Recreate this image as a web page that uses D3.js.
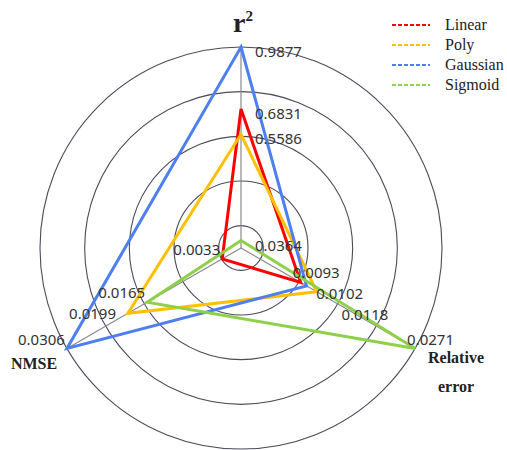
<!DOCTYPE html>
<html>
<head>
<meta charset="utf-8">
<script src="https://cdn.jsdelivr.net/npm/d3@7"></script>
<style>
  html, body { margin: 0; padding: 0; background: #fff; }
  svg { display: block; }
</style>
</head>
<body>
<svg id="chart" width="507" height="450"></svg>
<script>
// Model names (one polygon each) and their colours
const seriesNames = ["Linear", "Poly", "Gaussian", "Sigmoid"];
const seriesColors = ["#ff0000", "#ffc000", "#4d7ff0", "#8fd04a"];

// Metrics, one axis each
const axisKeys = ["r2", "relErr", "nmse"];

// Metric values per model, in seriesNames order
const r2Values     = [0.6831, 0.5586, 0.9877, 0.0364];
const relErrValues = [0.0093, 0.0118, 0.0102, 0.0271];
const nmseValues   = [0.0033, 0.0199, 0.0306, 0.0165];

const valuesByAxis = { r2: r2Values, relErr: relErrValues, nmse: nmseValues };

// ---- layout ----
const width = 507, height = 450;
const cx = 241, cy = 248, R = 201;
const ringSteps = [1, 3, 5, 7, 9];          // rings in ninths of the radius
const axisAngle = { r2: 0, relErr: 2 * Math.PI / 3, nmse: 4 * Math.PI / 3 };

const svg = d3.select("#chart");
const g = svg.append("g").attr("transform", `translate(${cx},${cy})`);

// one radial scale per metric, 0 .. largest value on that axis
const rScale = {};
axisKeys.forEach(k => {
  rScale[k] = d3.scaleLinear().domain([0, d3.max(valuesByAxis[k])]).range([0, R]);
});
const ringScale = d3.scaleLinear().domain([0, 9]).range([0, R]);

// grid rings
g.selectAll("circle.ring")
  .data(ringSteps)
  .join("circle")
  .attr("class", "ring")
  .attr("r", d => ringScale(d))
  .attr("fill", "none")
  .attr("stroke", "#4b4b5c")
  .attr("stroke-width", 1.1);

// spokes
g.selectAll("line.spoke")
  .data(axisKeys)
  .join("line")
  .attr("class", "spoke")
  .attr("x1", 0).attr("y1", 0)
  .attr("x2", k => d3.pointRadial(axisAngle[k], R)[0])
  .attr("y2", k => d3.pointRadial(axisAngle[k], R)[1])
  .attr("stroke", "#8a8a8a")
  .attr("stroke-width", 1.2);

// polygons
const seriesData = seriesNames.map((name, i) => ({
  name,
  color: seriesColors[i],
  points: axisKeys.map(k => d3.pointRadial(axisAngle[k], rScale[k](valuesByAxis[k][i])))
}));

const line = d3.line().curve(d3.curveLinearClosed);
g.selectAll("path.series")
  .data(seriesData)
  .join("path")
  .attr("class", "series")
  .attr("d", d => line(d.points))
  .attr("fill", "none")
  .attr("stroke", d => d.color)
  .attr("stroke-width", 3)
  .attr("stroke-linejoin", "miter");

// value labels, placed per axis then spread outward so they don't collide
const labelRule = {
  r2:     { anchor: "start", dx: p => 14 - p[0], dy: 10, slide: 0 },
  relErr: { anchor: "start", dx: () => -8,       dy: -4, slide: 1 },
  nmse:   { anchor: "end",   dx: () => -2,       dy: -4, slide: -1 }
};
const labels = [];
axisKeys.forEach(k => {
  const rule = labelRule[k];
  const items = valuesByAxis[k].map(v => {
    const p = d3.pointRadial(axisAngle[k], rScale[k](v));
    return { v, x: p[0] + rule.dx(p), y: p[1] + rule.dy, anchor: rule.anchor };
  });
  // sort outward along the axis and keep a minimum vertical gap
  const down = k !== "r2";
  const gap = 21;
  items.sort((a, b) => down ? a.y - b.y : b.y - a.y);
  for (let i = 1; i < items.length; i++) {
    const prev = items[i - 1].y;
    let shift = 0;
    if (down && items[i].y < prev + gap) shift = prev + gap - items[i].y;
    if (!down && items[i].y > prev - gap) shift = items[i].y - (prev - gap);
    if (shift > 0) {
      items[i].y += down ? shift : -shift;
      items[i].x += rule.slide * shift;
    }
  }
  labels.push(...items);
});

g.selectAll("text.value")
  .data(labels)
  .join("text")
  .attr("class", "value")
  .attr("x", d => d.x)
  .attr("y", d => d.y)
  .attr("text-anchor", d => d.anchor)
  .attr("font-family", "'Noto Sans', 'Open Sans', sans-serif")
  .attr("font-size", 15)
  .attr("fill", "#333")
  .text(d => d.v.toFixed(4));

// axis titles
const titleFont = "'Liberation Serif', 'Times New Roman', serif";
const r2Title = svg.append("text")
  .attr("x", cx + 2).attr("y", 32)
  .attr("text-anchor", "middle")
  .attr("font-family", titleFont)
  .attr("font-weight", "bold")
  .attr("font-size", 28)
  .attr("fill", "#222");
r2Title.append("tspan").text("r");
r2Title.append("tspan").attr("dy", -11).attr("font-size", 15).text("2");

svg.append("text")
  .attr("x", 34).attr("y", 369)
  .attr("text-anchor", "middle")
  .attr("font-family", titleFont)
  .attr("font-weight", "bold")
  .attr("font-size", 16)
  .attr("fill", "#222")
  .text("NMSE");

svg.append("text")
  .attr("text-anchor", "middle")
  .attr("font-family", titleFont)
  .attr("font-weight", "bold")
  .attr("font-size", 16)
  .attr("fill", "#222")
  .selectAll("tspan")
  .data(["Relative", "error"])
  .join("tspan")
  .attr("x", 456)
  .attr("y", (d, i) => 363 + i * 29)
  .text(d => d);

// legend
const legend = svg.append("g").attr("transform", "translate(392,25)");
const rows = legend.selectAll("g")
  .data(seriesNames)
  .join("g")
  .attr("transform", (d, i) => `translate(0,${i * 20})`);
rows.append("line")
  .attr("x1", 0).attr("x2", 38)
  .attr("y1", 0).attr("y2", 0)
  .attr("stroke", (d, i) => seriesColors[i])
  .attr("stroke-width", 2)
  .attr("stroke-dasharray", "4,2");
rows.append("text")
  .attr("x", 53).attr("y", 5)
  .attr("font-family", titleFont)
  .attr("font-size", 16)
  .attr("fill", "#222")
  .text(d => d);
</script>
</body>
</html>
